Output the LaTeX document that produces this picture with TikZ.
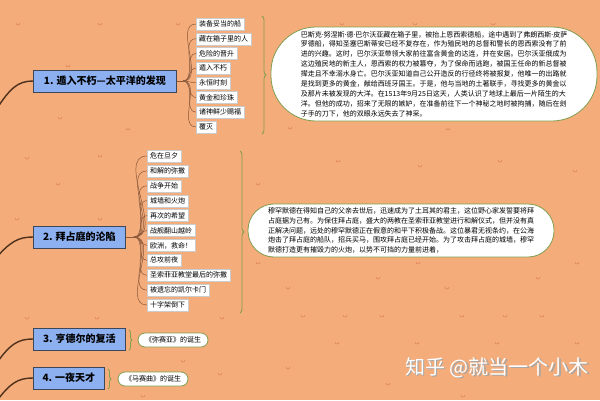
\documentclass[tikz,border=0pt]{standalone}
\usepackage{fontspec}
\setmainfont{Noto Sans CJK SC}
\newfontfamily\latinfont{Noto Sans}
\newcommand{\middot}{{\latinfont ·}}
\usetikzlibrary{positioning, decorations.pathreplacing, calc}
\definecolor{bgorange}{RGB}{244,172,122}
\definecolor{branchblue}{RGB}{140,176,240}
\definecolor{branchline}{RGB}{60,72,90}
\definecolor{trunkbrown}{RGB}{78,48,28}
\definecolor{twigbrown}{RGB}{140,90,60}
\definecolor{bracegreen}{RGB}{128,158,78}
\definecolor{speckorange}{RGB}{222,132,88}

\begin{document}
\begin{tikzpicture}[x=1pt, y=-1pt,
  branch/.style={draw=branchline, fill=branchblue, line width=0.8pt, minimum height=22pt, anchor=west, inner sep=2pt, font=\fontsize{10}{12}\selectfont\bfseries},
  leaf/.style={draw=gray!40, fill=white, anchor=west, minimum height=12pt, inner xsep=3pt, inner ysep=1pt, font=\fontsize{7}{8}\selectfont},
  note/.style={draw=bracegreen, fill=white, line width=0.8pt, align=left, font=\fontsize{7}{9.9}\selectfont},
  trunk/.style={trunkbrown, line width=1.4pt},
  twig/.style={twigbrown, line width=0.5pt},
  curly/.style={bracegreen, line width=0.8pt, decorate, decoration={brace, amplitude=4pt}},
  speck/.style={speckorange, line width=0.6pt}]
\useasboundingbox (0,0) rectangle (600,400);
\clip (0,0) rectangle (600,400);
% Background
\fill[bgorange] (0,0) rectangle (600,400);
\foreach \x/\y in {18/23, 100/23, 178/23, 342/23, 415/23, 493/23, 68/65, 60/117, 128/128, 290/127, 448/128,
  27/157, 100/155, 338/160, 420/165, 500/160, 575/170, 58/183, 258/183, 17/218, 100/218,
  258/262, 418/262, 577/262, 378/277, 538/277, 288/287, 447/287, 27/317, 97/317, 222/317,
  303/315, 345/315, 382/315, 462/315, 505/315, 542/315, 337/342, 417/342, 497/342, 577/342,
  183/360, 220/373, 288/367, 388/383, 143/395, 463/395}
  \draw[speck] (\x-2,\y) arc[start angle=180, end angle=0, radius=2];

% Branch 1
\node[branch, minimum width=143pt] (b1) at (33,81) {1. 遁入不朽—太平洋的发现};
\node[leaf] (i11) at (196,24) {装备妥当的船};
\node[leaf] (i12) at (196,38.7) {藏在箱子里的人};
\node[leaf] (i13) at (196,53.4) {危险的晋升};
\node[leaf] (i14) at (196,68.1) {遁入不朽};
\node[leaf] (i15) at (196,82.8) {永恒时刻};
\node[leaf] (i16) at (196,97.5) {黄金和珍珠};
\node[leaf] (i17) at (196,112.2) {诸神鲜少赐福};
\node[leaf] (i18) at (196,126.9) {覆灭};
\node[note, rounded corners=45pt, minimum width=326pt, minimum height=94pt] (n1) at (434,74) {%
巴斯克\middot 努涅斯\middot 德\middot 巴尔沃亚藏在箱子里，被抬上恩西索德船，途中遇到了弗朗西斯\middot 皮萨\\
罗德船，得知圣塞巴斯蒂安已经不复存在，作为殖民地的总督和警长的恩西索没有了前\\
进的兴趣。这时，巴尔沃亚带领大家前往富含黄金的达连，并在安居。巴尔沃亚俄成为\\
这边殖民地的新主人，恩西索的权力被篡夺，为了保命而逃跑，被国王任命的新总督被\\
撵走且不幸溺水身亡。巴尔沃亚知道自己公开造反的行径终将被报复，他唯一的出路就\\
是找到更多的黄金，献给西班牙国王。于是，他与当地的土著联手，寻找更多的黄金以\\
及那片未被发现的大洋。在1513年9月25日这天，人类认识了地球上最后一片陌生的大\\
洋。但他的成功，招来了无限的嫉妒，在准备前往下一个神秘之地时被拘捕，随后在刽\\
子手的刀下，他的双眼永远失去了神采。};

% Branch 2
\node[branch, minimum width=92pt] (b2) at (33,237) {2. 拜占庭的沦陷};
\node[leaf] (i21) at (147,156) {危在旦夕};
\node[leaf] (i22) at (147,170.9) {和解的弥撒};
\node[leaf] (i23) at (147,185.8) {战争开始};
\node[leaf] (i24) at (147,200.7) {城墙和火炮};
\node[leaf] (i25) at (147,215.6) {再次的希望};
\node[leaf] (i26) at (147,230.5) {战舰翻山越岭};
\node[leaf] (i27) at (147,245.4) {欧洲，救命！};
\node[leaf] (i28) at (147,260.3) {总攻前夜};
\node[leaf] (i29) at (147,275.2) {圣索菲亚教堂最后的弥撒};
\node[leaf] (i210) at (147,290.1) {被遗忘的凯尔卡门};
\node[leaf] (i211) at (147,305) {十字架倒下};
\node[note, rounded corners=26pt, minimum width=306pt, minimum height=53pt] (n2) at (401,230.5) {%
穆罕默德在得知自己的父亲去世后，迅速成为了土耳其的君主，这位野心家发誓要将拜\\
占庭据为己有。为保住拜占庭，盛大的两教在圣索菲亚教堂进行和解仪式，但并没有真\\
正解决问题，远处的穆罕默德正在假意的和平下积极备战。这位暴君无视条约，在公海\\
炮击了拜占庭的船队，招兵买马，围攻拜占庭已经开始。为了攻击拜占庭的城墙，穆罕\\
默德打造更有摧毁力的火炮，以势不可挡的力量前进着，};

% Branch 3 and 4
\node[branch, minimum width=92pt] (b3) at (33,339) {3. 亨德尔的复活};
\node[note, rounded corners=7pt, minimum width=70pt, minimum height=14pt, inner sep=1pt, font=\fontsize{7}{8}\selectfont] (n3) at (173,340) {《弥赛亚》的诞生};
\node[branch, minimum width=71pt] (b4) at (33,378) {4. 一夜天才};
\node[note, rounded corners=7pt, minimum width=70pt, minimum height=14pt, inner sep=1pt, font=\fontsize{7}{8}\selectfont] (n4) at (153,379) {《马赛曲》的诞生};

% Trunk
\coordinate (r1) at (-4,110);
\coordinate (r2) at (-4,258);
\coordinate (r3) at (-4,364);
\coordinate (r4) at (-4,402);
\draw[trunk] (r1) .. controls (10,88) and (18,81) .. (b1.west);
\draw[trunk] (r2) .. controls (10,242) and (18,237) .. (b2.west);
\draw[trunk] (r3) .. controls (10,344) and (18,339) .. (b3.west);
\draw[trunk] (r4) .. controls (10,383) and (18,378) .. (b4.west);

% Twigs
\coordinate (f1) at (183,81);
\draw[twig] (b1.east) -- (f1);
\draw[twig] (f1) to[out=0, in=180] (i11.west);
\draw[twig] (f1) to[out=0, in=180] (i12.west);
\draw[twig] (f1) to[out=0, in=180] (i13.west);
\draw[twig] (f1) to[out=0, in=180] (i14.west);
\draw[twig] (f1) to[out=0, in=180] (i15.west);
\draw[twig] (f1) to[out=0, in=180] (i16.west);
\draw[twig] (f1) to[out=0, in=180] (i17.west);
\draw[twig] (f1) to[out=0, in=180] (i18.west);
\coordinate (f2) at (134,237);
\draw[twig] (b2.east) -- (f2);
\draw[twig] (f2) to[out=0, in=180] (i21.west);
\draw[twig] (f2) to[out=0, in=180] (i22.west);
\draw[twig] (f2) to[out=0, in=180] (i23.west);
\draw[twig] (f2) to[out=0, in=180] (i24.west);
\draw[twig] (f2) to[out=0, in=180] (i25.west);
\draw[twig] (f2) to[out=0, in=180] (i26.west);
\draw[twig] (f2) to[out=0, in=180] (i27.west);
\draw[twig] (f2) to[out=0, in=180] (i28.west);
\draw[twig] (f2) to[out=0, in=180] (i29.west);
\draw[twig] (f2) to[out=0, in=180] (i210.west);
\draw[twig] (f2) to[out=0, in=180] (i211.west);

% Braces
\draw[curly] (262,16) -- (262,134);
\draw[curly] (240,151) -- (240,313);
\draw[curly, decoration={brace, amplitude=3pt}] (129,330) -- (129,350);
\draw[curly, decoration={brace, amplitude=3pt}] (108,369) -- (108,389);

% Watermark
\node[anchor=west, text=gray!70, font=\fontsize{20}{24}\selectfont] (wms) at (403.2,369.2) {知乎 @就当一个小木};
\node[anchor=west, text=white, font=\fontsize{20}{24}\selectfont] (wm) at (402,368) {知乎 @就当一个小木};
\end{tikzpicture}
\end{document}
